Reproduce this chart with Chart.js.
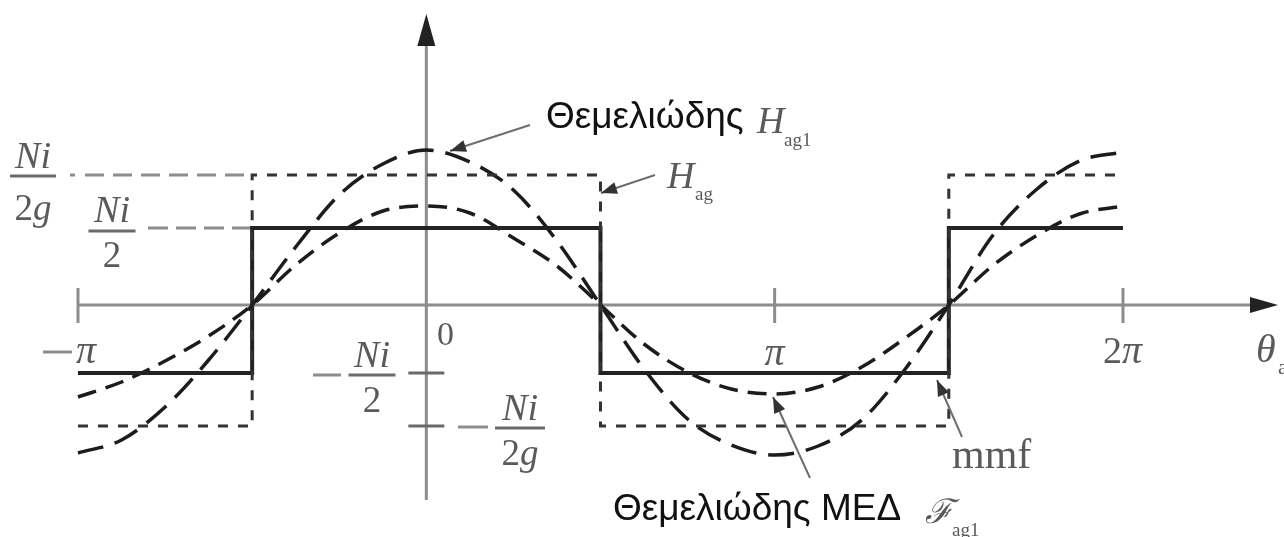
<!DOCTYPE html>
<html>
<head>
<meta charset="utf-8">
<script src="https://cdn.jsdelivr.net/npm/chart.js@4/dist/chart.umd.min.js"></script>
<style>
  html, body { margin: 0; padding: 0; background: #fff; overflow: hidden; }
</style>
</head>
<body>
<canvas id="fig" width="1284" height="537"></canvas>
<script>
// angle positions in units of pi
const thetaPi = [-1, -0.875, -0.75, -0.625, -0.5, -0.375, -0.25, -0.125, 0,
  0.125, 0.25, 0.375, 0.5, 0.625, 0.75, 0.875, 1,
  1.125, 1.25, 1.375, 1.5, 1.625, 1.75, 1.875, 2];

// fundamental of air-gap field H_ag1
const hag1 = [-1.48, -1.35, -1.02, -0.55, 0, 0.58, 1.10, 1.41, 1.55,
  1.43, 1.15, 0.64, 0, -0.64, -1.14, -1.40, -1.50,
  -1.41, -1.15, -0.64, 0, 0.69, 1.15, 1.44, 1.53];

// fundamental mmf F_ag1
const fag1 = [-0.92, -0.77, -0.56, -0.31, 0, 0.40, 0.72, 0.94, 0.99,
  0.92, 0.67, 0.39, 0, -0.39, -0.67, -0.84, -0.89,
  -0.82, -0.62, -0.33, 0, 0.39, 0.69, 0.91, 0.99];

// square waves: mmf and H_ag
const stepX = [-1, -0.5, -0.5, 0.5, 0.5, 1.5, 1.5, 2];
const mmfY = [-0.68, -0.68, 0.77, 0.77, -0.68, -0.68, 0.77, 0.77];
const hagY = [-1.21, -1.21, 1.30, 1.30, -1.21, -1.21, 1.30, 1.30];

// axis ticks
const tickValues = [-1, 0, 1, 2];
const tickLabels = ['\u2212\u03c0', '0', '\u03c0', '2\u03c0'];

const pts = (xs, ys) => xs.map((x, i) => ({ x: x, y: ys[i] }));

const SERIF = '"Liberation Serif", "DejaVu Serif", serif';
const SANS = '"Liberation Sans", Arial, sans-serif';
const GREY = '#5a5a5a';

function txt(ctx, s, x, y, font, color, align) {
  ctx.font = font;
  ctx.fillStyle = color || GREY;
  ctx.textAlign = align || 'left';
  ctx.textBaseline = 'alphabetic';
  ctx.fillText(s, x, y);
}

function hline(ctx, x1, x2, y, w, color, dash) {
  ctx.save();
  ctx.strokeStyle = color;
  ctx.lineWidth = w;
  ctx.setLineDash(dash || []);
  ctx.beginPath();
  ctx.moveTo(x1, y);
  ctx.lineTo(x2, y);
  ctx.stroke();
  ctx.restore();
}

// fraction "Ni" over denominator; denom is list of [text, italic]
function frac(ctx, cx, numBase, barY, denBase, denom, barW) {
  txt(ctx, 'Ni', cx, numBase, 'italic 38px ' + SERIF, GREY, 'center');
  hline(ctx, cx - barW / 2, cx + barW / 2, barY, 3, '#6a6a6a');
  let w = 0;
  denom.forEach(d => {
    ctx.font = (d[1] ? 'italic ' : '') + '37px ' + SERIF;
    w += ctx.measureText(d[0]).width;
  });
  let x = cx - w / 2;
  denom.forEach(d => {
    const f = (d[1] ? 'italic ' : '') + '37px ' + SERIF;
    txt(ctx, d[0], x, denBase, f, GREY, 'left');
    ctx.font = f;
    x += ctx.measureText(d[0]).width;
  });
}

function arrow(ctx, x1, y1, x2, y2) {
  ctx.save();
  ctx.strokeStyle = '#6e6e6e';
  ctx.lineWidth = 2;
  ctx.beginPath();
  ctx.moveTo(x1, y1);
  ctx.lineTo(x2, y2);
  ctx.stroke();
  const a = Math.atan2(y2 - y1, x2 - x1);
  const L = 16, W = 6;
  ctx.fillStyle = '#333';
  ctx.beginPath();
  ctx.moveTo(x2, y2);
  ctx.lineTo(x2 - L * Math.cos(a) + W * Math.sin(a), y2 - L * Math.sin(a) - W * Math.cos(a));
  ctx.lineTo(x2 - L * Math.cos(a) - W * Math.sin(a), y2 - L * Math.sin(a) + W * Math.cos(a));
  ctx.closePath();
  ctx.fill();
  ctx.restore();
}

const figure = {
  id: 'figure',
  beforeDatasetsDraw(chart) {
    const ctx = chart.ctx;
    const xs = chart.scales.x, ys = chart.scales.y;
    const y0 = ys.getPixelForValue(0);
    const x0 = xs.getPixelForValue(0);
    ctx.save();
    ctx.strokeStyle = '#8c8c8c';
    ctx.lineWidth = 3;
    // horizontal axis
    ctx.beginPath();
    ctx.moveTo(xs.getPixelForValue(-1), y0);
    ctx.lineTo(1255, y0);
    ctx.stroke();
    // vertical axis
    ctx.beginPath();
    ctx.moveTo(x0, 500);
    ctx.lineTo(x0, 40);
    ctx.stroke();
    // ticks
    tickValues.forEach(v => {
      if (v === 0) return;
      const x = xs.getPixelForValue(v);
      ctx.beginPath();
      ctx.moveTo(x, y0 - 17);
      ctx.lineTo(x, y0 + 18);
      ctx.stroke();
    });
    // arrow heads
    ctx.fillStyle = '#222';
    ctx.beginPath();
    ctx.moveTo(1278, y0);
    ctx.lineTo(1250, y0 - 8);
    ctx.lineTo(1250, y0 + 8);
    ctx.closePath();
    ctx.fill();
    ctx.beginPath();
    ctx.moveTo(x0, 14);
    ctx.lineTo(x0 - 9, 46);
    ctx.lineTo(x0 + 9, 46);
    ctx.closePath();
    ctx.fill();
    ctx.restore();

    // level guide lines
    const xStep = xs.getPixelForValue(-0.5);
    const yHag = ys.getPixelForValue(hagY[2]);
    const yMmf = ys.getPixelForValue(mmfY[2]);
    hline(ctx, 70, 75, yHag, 3, '#8c8c8c');
    hline(ctx, 85, xStep, yHag, 3, '#8c8c8c', [19, 9]);
    hline(ctx, 148, xStep, yMmf, 3, '#8c8c8c', [20, 8]);
    // small level ticks on the vertical axis
    hline(ctx, x0 - 18, x0 + 18, ys.getPixelForValue(mmfY[0]), 3, '#6a6a6a');
    hline(ctx, x0 - 18, x0 + 18, ys.getPixelForValue(hagY[0]), 3, '#6a6a6a');
  },
  afterDatasetsDraw(chart) {
    const ctx = chart.ctx;
    const xs = chart.scales.x;

    // tick labels
    const it = 'italic 40px ' + SERIF;
    hline(ctx, 43, 72, 352, 3, '#8c8c8c');
    txt(ctx, '\u03c0', 76, 363, it);
    txt(ctx, tickLabels[1], 437, 345, '34px ' + SERIF);
    txt(ctx, '\u03c0', xs.getPixelForValue(tickValues[2]), 365, it, GREY, 'center');
    txt(ctx, '2', 1103, 363, '38px ' + SERIF);
    ctx.font = '38px ' + SERIF;
    txt(ctx, '\u03c0', 1103 + ctx.measureText('2').width, 363, it);
    txt(ctx, '\u03b8', 1256, 362, it);
    txt(ctx, 'a', 1278, 374, '22px ' + SERIF);

    // level labels
    frac(ctx, 33, 168, 176, 220, [['2', false], ['g', true]], 46);
    frac(ctx, 112, 222, 231, 267, [['2', false]], 47);
    hline(ctx, 313, 341, 375, 3, '#8c8c8c');
    frac(ctx, 372, 367, 375, 412, [['2', false]], 47);
    hline(ctx, 458, 488, 427, 3, '#8c8c8c');
    frac(ctx, 520, 420, 428, 465, [['2', false], ['g', true]], 50);

    // annotations
    txt(ctx, 'Θεμελιώδης', 546, 128, '37px ' + SANS, '#111');
    txt(ctx, 'H', 757, 133, 'italic 38px ' + SERIF);
    txt(ctx, 'ag1', 784, 146, '19px ' + SERIF);
    arrow(ctx, 530, 125, 450, 151);

    txt(ctx, 'H', 667, 188, 'italic 38px ' + SERIF);
    txt(ctx, 'ag', 695, 200, '19px ' + SERIF);
    arrow(ctx, 655, 175, 601, 193);

    txt(ctx, 'mmf', 952, 468, '42px ' + SERIF);
    arrow(ctx, 962, 437, 937, 380);

    txt(ctx, 'Θεμελιώδης ΜΕΔ', 613, 520, '37px ' + SANS, '#111');
    txt(ctx, '\u2131', 925, 523, 'italic 34px ' + SERIF);
    txt(ctx, 'ag1', 952, 536, '19px ' + SERIF);
    arrow(ctx, 810, 478, 773, 397);
  }
};

new Chart(document.getElementById('fig'), {
  type: 'scatter',
  data: {
    datasets: [
      {
        label: 'Hag',
        data: pts(stepX, hagY),
        showLine: true,
        borderColor: '#333',
        borderWidth: 3,
        borderDash: [10, 10],
        pointRadius: 0
      },
      {
        label: 'mmf',
        data: pts(stepX, mmfY),
        showLine: true,
        borderColor: '#222',
        borderWidth: 4,
        pointRadius: 0
      },
      {
        label: 'Hag1',
        data: pts(thetaPi, hag1),
        showLine: true,
        cubicInterpolationMode: 'monotone',
        borderColor: '#1c1c1c',
        borderWidth: 3.5,
        borderDash: [26, 12],
        pointRadius: 0
      },
      {
        label: 'Fag1',
        data: pts(thetaPi, fag1),
        showLine: true,
        cubicInterpolationMode: 'monotone',
        borderColor: '#1c1c1c',
        borderWidth: 3.5,
        borderDash: [19, 10],
        pointRadius: 0
      }
    ]
  },
  options: {
    responsive: false,
    animation: false,
    devicePixelRatio: 1,
    layout: { padding: 0 },
    plugins: { legend: { display: false }, tooltip: { enabled: false } },
    scales: {
      x: { type: 'linear', min: -1.2239, max: 2.4623, display: false },
      y: { type: 'linear', min: -2.32, max: 3.05, display: false }
    }
  },
  plugins: [figure]
});
</script>
</body>
</html>
